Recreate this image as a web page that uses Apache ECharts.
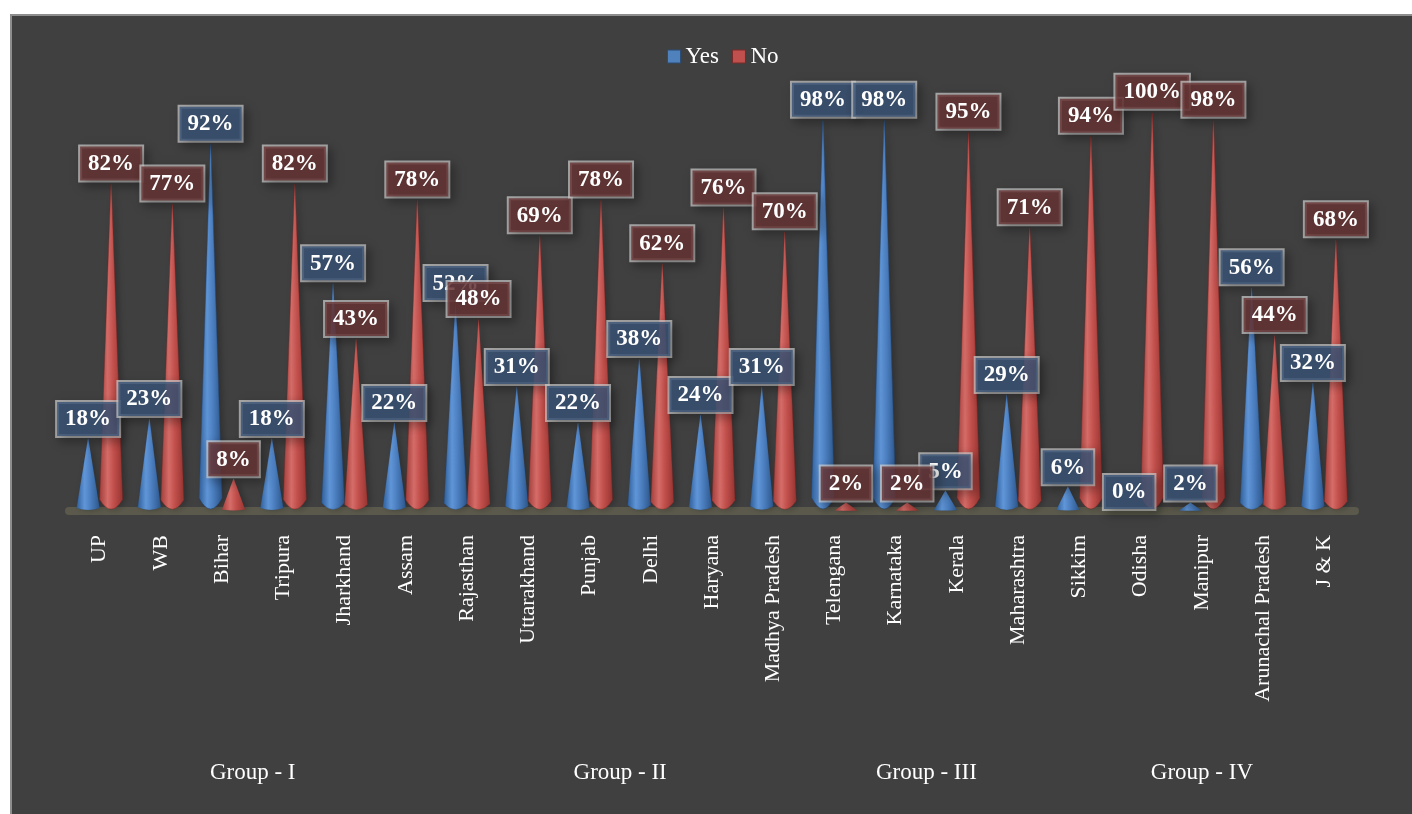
<!DOCTYPE html>
<html>
<head>
<meta charset="utf-8">
<script src="https://cdn.jsdelivr.net/npm/echarts@6/dist/echarts.min.js"></script>
<style>
  html, body { margin: 0; padding: 0; background: #ffffff; overflow: hidden; }
  #panel {
    position: absolute; left: 10px; top: 14px; width: 1412px; height: 820px;
    background: #404040; border: 2px solid #8e8e8e; box-sizing: border-box;
  }
  #chart { position: absolute; left: 0; top: 0; width: 1412px; height: 814px; }
</style>
</head>
<body>
<div id="panel"></div>
<div id="chart"></div>
<script>
// States surveyed, in plotting order
const states = [
  'UP', 'WB', 'Bihar', 'Tripura', 'Jharkhand', 'Assam',
  'Rajasthan', 'Uttarakhand', 'Punjab', 'Delhi', 'Haryana', 'Madhya Pradesh',
  'Telengana', 'Karnataka', 'Kerala', 'Maharashtra',
  'Sikkim', 'Odisha', 'Manipur', 'Arunachal Pradesh', 'J & K'
];

// Share of responses (%)
const yesShare = [18, 23, 92, 18, 57, 22, 52, 31, 22, 38, 24, 31, 98, 98, 5, 29, 6, 0, 2, 56, 32];
const noShare  = [82, 77, 8, 82, 43, 78, 48, 69, 78, 62, 76, 70, 2, 2, 95, 71, 94, 100, 98, 44, 68];

// State groups: names and how many states each covers
const groupNames = ['Group - I', 'Group - II', 'Group - III', 'Group - IV'];
const groupSizes = [6, 6, 4, 5];

// Centre index of each group along the category axis
const groupCenters = [];
let start = 0;
groupSizes.forEach(function (n) {
  groupCenters.push(start + (n - 1) / 2);
  start += n;
});

const FONT = '"Liberation Serif", "Times New Roman", serif';
const conePath = 'path://M0,97 L49,0 L51,0 L100,97 Q50,103 0,97 Z';

function grad(c0, c1, c2, c3) {
  return new echarts.graphic.LinearGradient(0, 0, 1, 0, [
    { offset: 0, color: c0 },
    { offset: 0.35, color: c1 },
    { offset: 0.6, color: c2 },
    { offset: 1, color: c3 }
  ]);
}

function coneSeries(name, values, fill, edge, labelBg) {
  return {
    name: name,
    type: 'pictorialBar',
    xAxisIndex: 0,
    yAxisIndex: 0,
    data: values,
    symbol: conePath,
    symbolSize: ['100%', '100%'],
    barWidth: 23,
    barGap: '0%',
    itemStyle: {
      color: fill,
      borderColor: edge,
      borderWidth: 1,
      shadowColor: 'rgba(0,0,0,0.25)',
      shadowBlur: 6,
      shadowOffsetX: 3
    },
    label: {
      show: true,
      position: 'top',
      distance: 2,
      formatter: '{c}%',
      color: '#ffffff',
      fontFamily: FONT,
      fontWeight: 'bold',
      fontSize: 23,
      lineHeight: 25,
      backgroundColor: labelBg,
      borderColor: 'rgba(210,210,210,0.7)',
      borderWidth: 2,
      padding: [5, 8, 4, 8],
      shadowColor: 'rgba(0,0,0,0.35)',
      shadowBlur: 10,
      shadowOffsetX: 4,
      shadowOffsetY: 4
    },
    emphasis: { disabled: true }
  };
}

const chart = echarts.init(document.getElementById('chart'), null, { renderer: 'canvas' });

chart.setOption({
  backgroundColor: 'transparent',
  animation: false,
  legend: {
    left: 662,
    top: 40,
    itemWidth: 13,
    itemHeight: 13,
    itemGap: 13,
    icon: 'rect',
    textStyle: { color: '#ffffff', fontFamily: FONT, fontSize: 23 },
    data: [
      { name: 'Yes', itemStyle: { color: '#4f81bd', borderColor: '#2c4d75', borderWidth: 1 } },
      { name: 'No', itemStyle: { color: '#c0504d', borderColor: '#7a2a28', borderWidth: 1 } }
    ]
  },
  grid: { left: 69, right: 57, top: 115, bottom: 303 },
  xAxis: [
    {
      type: 'category',
      data: states,
      position: 'bottom',
      axisLine: { show: true, lineStyle: { color: '#5a594b', width: 8 } },
      axisTick: { show: false },
      axisLabel: {
        rotate: 90,
        margin: 24,
        color: '#ffffff',
        fontFamily: FONT,
        fontSize: 22,
        interval: 0
      }
    },
    {
      type: 'value',
      min: -0.5,
      max: states.length - 0.5,
      position: 'bottom',
      axisLine: { show: false },
      axisTick: { show: false },
      splitLine: { show: false },
      axisLabel: {
        customValues: groupCenters,
        margin: 250,
        color: '#ffffff',
        fontFamily: FONT,
        fontSize: 23,
        formatter: function (v) {
          const i = groupCenters.indexOf(v);
          return i >= 0 ? groupNames[i] : '';
        }
      }
    }
  ],
  yAxis: { type: 'value', min: 0, max: 100, show: false },
  series: [
    coneSeries('Yes', yesShare,
      grad('#30609c', '#6096d8', '#4c7fc0', '#2c568b'), '#23487a', 'rgba(58,84,118,0.82)'),
    coneSeries('No', noShare,
      grad('#a43f3c', '#d66d69', '#c2504c', '#983532'), '#7a2523', 'rgba(104,52,52,0.82)')
  ]
});
</script>
</body>
</html>
